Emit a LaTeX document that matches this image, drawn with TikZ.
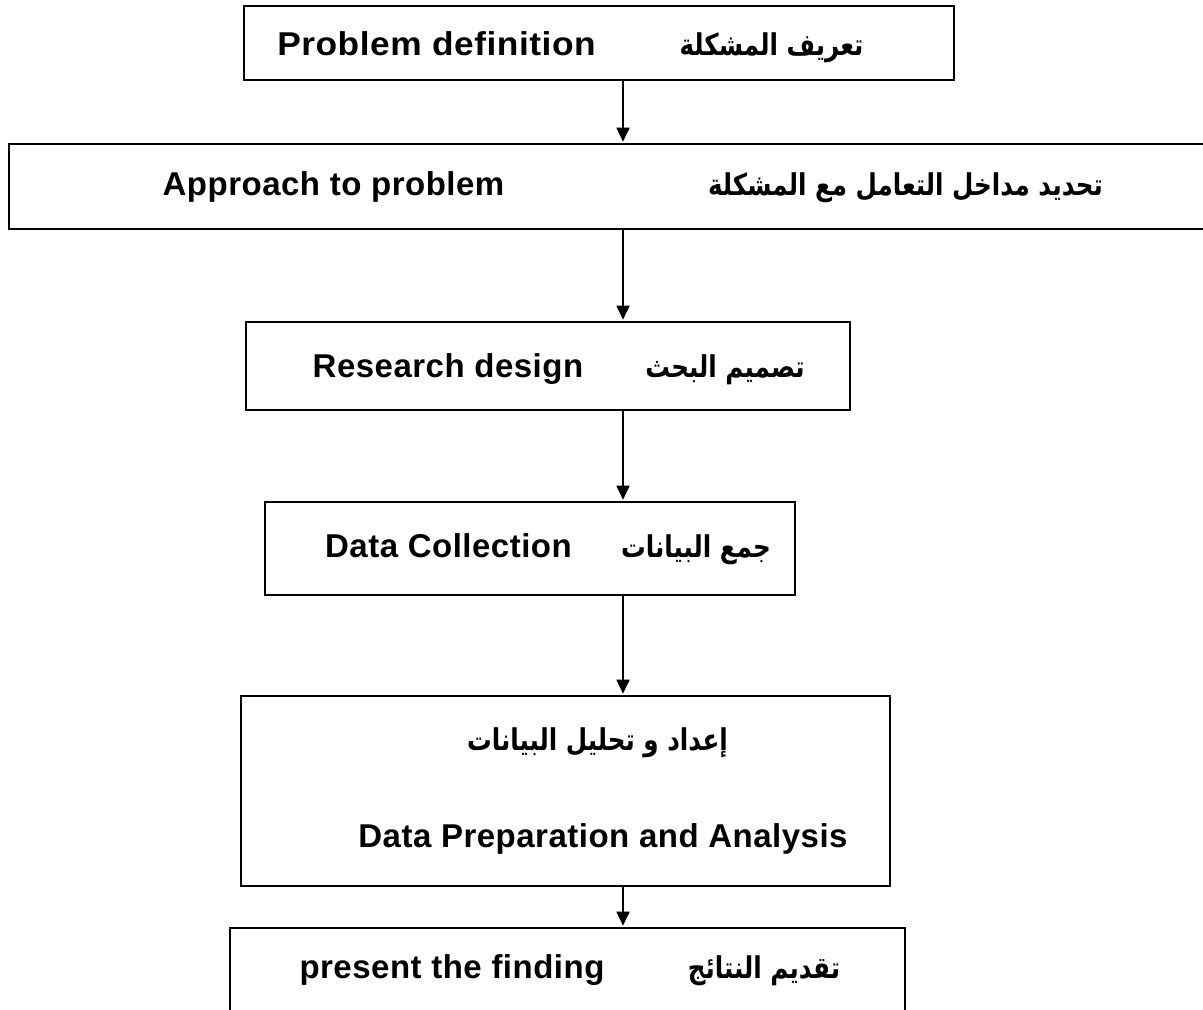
\documentclass[tikz,border=0pt]{standalone}
\usepackage{fontspec}
\usepackage{graphicx}
\setmainfont[LetterSpace=1.5]{Liberation Sans}
\newfontfamily\arabicfont[Script=Arabic]{DejaVu Sans}
\TeXXeTstate=1
\usetikzlibrary{arrows.meta}
\newcommand{\artxt}[1]{\scalebox{0.82}[1]{\beginR #1\endR}}
\begin{document}
\begin{tikzpicture}[x=1pt,y=-1pt,
 box/.style={draw=black, line width=2.6pt, rectangle, inner sep=0pt},
 en/.style={font=\fontsize{33}{38}\selectfont\bfseries, inner sep=0pt, anchor=base},
 ar/.style={font=\fontsize{30}{34}\selectfont\arabicfont\bfseries, inner sep=0pt, anchor=base},
 arr/.style={line width=1.8pt, -{Triangle[width=13pt,length=14pt]}, shorten >=1pt}]
\useasboundingbox (0,0) rectangle (1203,1010);
\clip (0,0) rectangle (1203,1010);
% boxes
\node[box, minimum width=710pt, minimum height=74pt] (b1) at (599,43) {};
\node[box, minimum width=1206pt, minimum height=85pt] (b2) at (612,186.5) {};
\node[box, minimum width=604pt, minimum height=88pt] (b3) at (548,366) {};
\node[box, minimum width=530pt, minimum height=93pt] (b4) at (530,548.5) {};
\node[box, minimum width=649pt, minimum height=190pt] (b5) at (565.5,791) {};
\node[box, minimum width=675pt, minimum height=92pt] (b6) at (567.5,974) {};
% texts
\node[en] (t1en) at (436.5,55) {\scalebox{1.07}[1]{Problem definition}};
\node[ar] (t1ar) at (771.5,55) {\artxt{تعريف المشكلة}};
\node[en] (t2en) at (333.5,195) {Approach to problem};
\node[ar] (t2ar) at (905.5,195) {\artxt{تحديد مداخل التعامل مع المشكلة}};
\node[en] (t3en) at (448,377) {Research design};
\node[ar] (t3ar) at (725,377) {\artxt{تصميم البحث}};
\node[en] (t4en) at (448.5,557) {Data Collection};
\node[ar] (t4ar) at (696,557) {\artxt{جمع البيانات}};
\node[ar] (t5ar) at (597.5,750) {\artxt{إعداد و تحليل البيانات}};
\node[en] (t5en) at (603,847) {Data Preparation and Analysis};
\node[en] (t6en) at (452,978) {present the finding};
\node[ar] (t6ar) at (764,978) {\artxt{تقديم النتائج}};
% arrows
\coordinate (ax) at (623,0);
\draw[arr] (b1.south -| ax) -- (b2.north -| ax);
\draw[arr] (b2.south -| ax) -- (b3.north -| ax);
\draw[arr] (b3.south -| ax) -- (b4.north -| ax);
\draw[arr] (b4.south -| ax) -- (b5.north -| ax);
\draw[arr] (b5.south -| ax) -- (b6.north -| ax);
\end{tikzpicture}
\end{document}
